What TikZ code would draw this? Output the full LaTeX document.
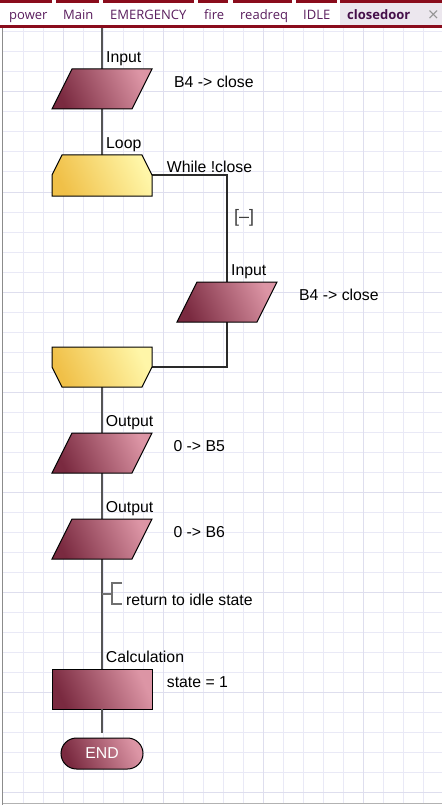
\documentclass[tikz,border=0pt]{standalone}
\usepackage{fontspec}
\setmainfont{Liberation Sans}
\newfontfamily\tabfont{Open Sans}
\newfontfamily\symfont{DejaVu Sans}
\usetikzlibrary{calc}
\definecolor{mdark}{HTML}{7A2A40}
\definecolor{mlight}{HTML}{DC95A5}
\definecolor{ydark}{HTML}{F0C048}
\definecolor{ylight}{HTML}{FFF6A8}
\definecolor{gridc}{HTML}{E9E9F6}
\definecolor{gridm}{HTML}{DEDEEE}
\definecolor{tabred}{HTML}{8A0C1C}
\definecolor{tabtxt}{HTML}{5A1E5E}
\definecolor{acttxt}{HTML}{45104A}
\definecolor{actbg}{HTML}{ECE7EE}
\definecolor{trunkc}{HTML}{555555}
\definecolor{loopc}{HTML}{2A2A2A}
\definecolor{cmtc}{HTML}{707070}
\tikzset{
  frame/.style={minimum width=100pt, minimum height=40pt, inner sep=0pt, outer sep=0pt},
  maroon/.style={draw=black, line width=1pt, bottom color=mdark, top color=mlight, shading angle=-65},
  yellowfill/.style={draw=black, line width=1pt, bottom color=ydark, top color=ylight, shading angle=-65},
  trunkline/.style={draw=trunkc, line width=1.5pt},
  loopline/.style={draw=loopc, line width=1.1pt},
  cmtline/.style={draw=cmtc, line width=1.5pt},
  lbl/.style={anchor=base west, inner sep=0pt, font=\fontsize{15.8}{18}\selectfont, text=black},
  tabl/.style={anchor=base west, inner sep=0pt, font=\tabfont\fontsize{13}{15}\selectfont, text=tabtxt},
}
\begin{document}
\begin{tikzpicture}[x=1pt,y=-1pt]
\useasboundingbox (0,0) rectangle (442,805);
% background
\fill[white] (0,0) rectangle (442,805);
% grid
\foreach \x in {23,43,...,443} \draw[gridc, line width=1pt] (\x,28) -- (\x,803);
\foreach \y in {32,52,...,792} \draw[gridc, line width=1pt] (3,\y) -- (442,\y);
\foreach \x in {63,163,263,363} \draw[gridm, line width=1pt] (\x,28) -- (\x,803);
\foreach \y in {92,192,...,792} \draw[gridm, line width=1pt] (3,\y) -- (442,\y);
\draw[draw=gray!90, line width=1.5pt] (2.5,28) -- (2.5,805);
\draw[draw=gray!60, line width=1pt] (3,803.5) -- (442,803.5);
% tab bar
\fill[actbg] (340,3) rectangle (442,25);
\foreach \a/\b in {0/52,56/99,103/194,198/228,233/292,296/337,340/442}
  \fill[tabred] (\a,0) rectangle (\b,3.5);
\fill[tabred] (0,25) rectangle (442,28);
\node[tabl] (t1) at (9,19.5) {power};
\node[tabl] (t2) at (63,19.5) {Main};
\node[tabl] (t3) at (110,19.5) {EMERGENCY};
\node[tabl] (t4) at (204,19.5) {fire};
\node[tabl] (t5) at (240,19.5) {readreq};
\node[tabl] (t6) at (303,19.5) {IDLE};
\node[tabl, text=acttxt, font=\tabfont\bfseries\fontsize{13}{15}\selectfont] (t7) at (347,19.5) {closedoor};
\node[tabl, text=gray!85, font=\symfont\fontsize{15}{15}\selectfont] (t8) at (427,20) {×};
% frames
\coordinate (top) at (102,28);
\node[frame] (in1) at (102,89) {};
\node[frame, minimum height=41pt] (loop1) at (102,175.5) {};
\node[frame] (in2) at (227,302) {};
\node[frame] (loopend) at (102,367) {};
\node[frame] (out1) at (102,453) {};
\node[frame] (out2) at (102,539) {};
\coordinate (cm) at (102,594);
% connectors
\draw[trunkline] (top) -- (in1.north);
\draw[trunkline] (in1.south) -- (loop1.north);
\draw[loopline] ($(loop1.north east)+(0,20)$) -| (in2.north);
\draw[loopline] (in2.south) |- ($(loopend.north east)+(0,20)$);
\draw[trunkline] (loopend.south) -- (out1.north);
\draw[trunkline] (out1.south) -- (out2.north);
% shapes
\node[frame, maroon] (calc) at (102,689) {};
\node[maroon, rounded corners=15.5pt, minimum width=82pt, minimum height=31pt, inner sep=0pt,
      font=\fontsize{15.8}{18}\selectfont, text=white] (endn) at (102,753.5) {END};
\coordinate (endtop) at ($(endn.north)+(0,-5)$);
\draw[trunkline] (out2.south) -- (calc.north);
\draw[trunkline] (calc.south) -- (endtop);
\draw[cmtline] (cm) -- ++(10,0);
\draw[cmtline] ($(cm)+(20,-11)$) -- ($(cm)+(10,-11)$) -- ($(cm)+(10,10)$) -- ($(cm)+(20,10)$);
\foreach \n in {in1,in2,out1,out2}{
  \path[maroon] ($(\n.north west)+(20,0)$) -- (\n.north east) -- ($(\n.south east)+(-20,0)$) -- (\n.south west) -- cycle;
}
\path[yellowfill] ($(loop1.north west)+(10,0)$) -- ($(loop1.north east)+(-10,0)$) -- ($(loop1.north east)+(0,20)$)
  -- (loop1.south east) -- (loop1.south west) -- ($(loop1.north west)+(0,20)$) -- cycle;
\path[yellowfill] (loopend.north west) -- (loopend.north east) -- ($(loopend.north east)+(0,20)$)
  -- ($(loopend.south east)+(-10,0)$) -- ($(loopend.south west)+(10,0)$) -- ($(loopend.north west)+(0,20)$) -- cycle;
% labels
\node[lbl] (l1) at (106,62.3) {Input};
\node[lbl] (v1) at (174,87.3) {B4 -> close};
\node[lbl] (l2) at (106,148.3) {Loop};
\node[lbl] (v2) at (166.7,172.7) {While !close};
\node[lbl, text=darkgray, font=\fontsize{18}{18}\selectfont] (col) at (234,222.5) {[–]};
\node[lbl] (l3) at (231,275) {Input};
\node[lbl] (v3) at (299,300) {B4 -> close};
\node[lbl] (l4) at (105.7,426) {Output};
\node[lbl] (v4) at (173.3,451) {0 -> B5};
\node[lbl] (l5) at (105.7,512.3) {Output};
\node[lbl] (v5) at (173.3,537.3) {0 -> B6};
\node[lbl] (cmt) at (126,605.5) {return to idle state};
\node[lbl] (l6) at (105.7,662.3) {Calculation};
\node[lbl] (v6) at (166.7,687.3) {state = 1};
\end{tikzpicture}
\end{document}
